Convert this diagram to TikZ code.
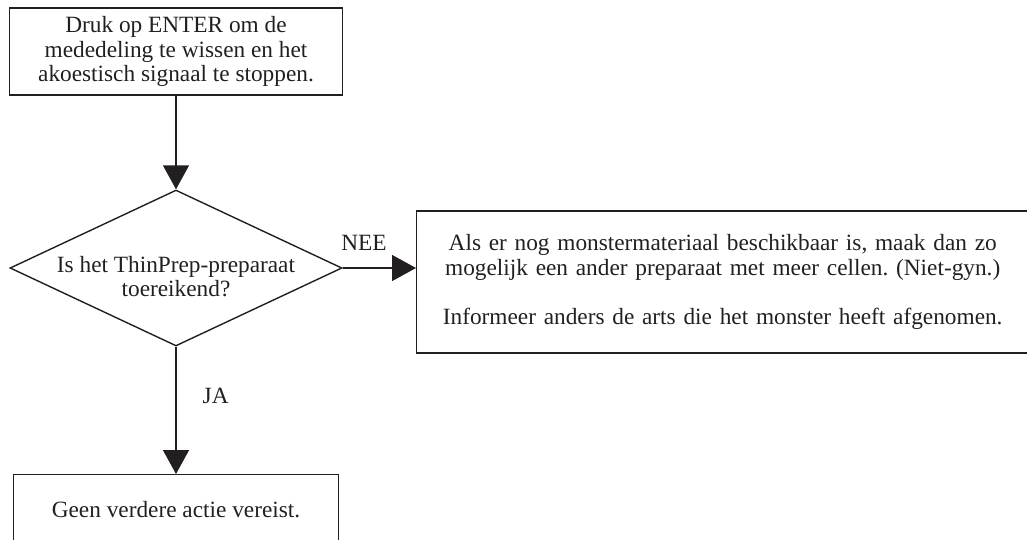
\documentclass[tikz,border=0pt]{standalone}
\usepackage{fontspec}
\setmainfont{Liberation Serif}
\usepackage{xcolor}
\usetikzlibrary{arrows.meta,positioning,shapes.geometric}
\definecolor{inkcol}{RGB}{35,31,32}
\frenchspacing
\begin{document}
\begin{tikzpicture}[
  x=1pt, y=-1pt,
  >={Triangle[length=24pt,width=26pt]},
  t/.style={align=center, inner sep=0pt, text=inkcol, font=\fontsize{23.3}{24.5}\selectfont},
  n/.style={t, draw=inkcol, line width=1.4pt},
  d/.style={draw=inkcol, line width=1.4pt, diamond, inner sep=0pt, minimum width=332pt, minimum height=156pt},
  e/.style={->, line width=1.4pt, draw=inkcol},
]
\clip (0,0) rectangle (1027,539);
\node[n, minimum width=333pt, minimum height=87pt] (ack) at (176,51.5)
  {Druk op ENTER om de\\ mededeling te wissen en het\\ akoestisch signaal te stoppen.};
\node[d] (q) at (176,268) {};
\node[t] (qtext) at (176,276.5) {Is het ThinPrep-preparaat\\ toereikend?};
\node[n, anchor=west, text width=570pt, inner xsep=21pt, minimum height=142pt] (alt) at (416,282)
  {Als er nog monstermateriaal beschikbaar is, maak dan zo\\
   mogelijk een ander preparaat met meer cellen. (Niet-gyn.)\\[24.5pt]
   Informeer anders de arts die het monster heeft afgenomen.};
\node[n, anchor=north, minimum width=325pt, minimum height=70pt] (done) at (176,474)
  {Geen verdere actie vereist.};
\draw[e] (ack) -- (q);
\draw[e] (q.east) -- (q.east -| alt.west) node[t, pos=0.29, above=17pt] (nee) {NEE};
\draw[e] (q) -- (done) node[t, pos=0.39, right=26pt] (ja) {JA};
\end{tikzpicture}
\end{document}
